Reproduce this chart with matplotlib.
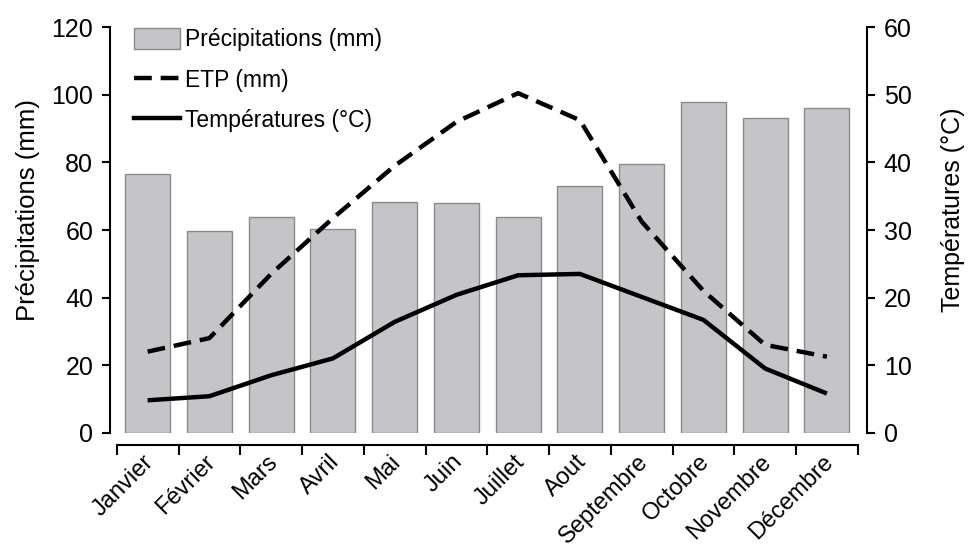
import numpy as np
import matplotlib
matplotlib.use('Agg')
import matplotlib.pyplot as plt
import matplotlib.transforms as mtransforms
from matplotlib.lines import Line2D
from matplotlib.patches import Patch

plt.rcParams['font.family'] = ['Liberation Sans', 'DejaVu Sans']

# Données
mois = ['Janvier', 'Février', 'Mars', 'Avril', 'Mai', 'Juin', 'Juillet',
        'Aout', 'Septembre', 'Octobre', 'Novembre', 'Décembre']
precip = [76.6, 59.7, 63.9, 60.3, 68.2, 67.9, 63.9, 73.0, 79.5, 98.0, 93.1, 96.2]
etp = [24, 28, 47, 63.5, 79, 92, 100.5, 92.5, 62.5, 42, 26, 22.5]
temp = [4.8, 5.4, 8.5, 11.0, 16.4, 20.4, 23.3, 23.5, 20.1, 16.7, 9.5, 5.8]

x = np.arange(len(mois))

fig = plt.figure(figsize=(9.68, 5.49), dpi=100)
ax = fig.add_axes([0.1136, 0.2118, 0.7821, 0.7385])
ax2 = ax.twinx()

# spines d'abord (set_position remet les ticks à zéro)
ax.spines['bottom'].set_position(('outward', 9))
for a in (ax, ax2):
    a.spines['top'].set_visible(False)
    for s in a.spines.values():
        s.set_linewidth(1.5)
ax.spines['right'].set_visible(False)
ax2.spines['bottom'].set_visible(False)
ax2.spines['left'].set_visible(False)

ax.bar(x, precip, width=0.73, color='#c5c5c9', edgecolor='#8a8a8a', linewidth=1.0, zorder=1)
ax.plot(x, etp, color='black', lw=3.2, dashes=(4, 2), dash_capstyle='butt', zorder=3)
ax2.plot(x, temp, color='black', lw=3.2, solid_capstyle='butt', zorder=3)

ax.set_xlim(-0.61, 11.65)
ax.set_ylim(0, 120)
ax2.set_ylim(0, 60)
ax.set_yticks(np.arange(0, 121, 20))
ax2.set_yticks(np.arange(0, 61, 10))

# axe des x décalé : libellés au centre, petits traits entre les mois
ax.spines['bottom'].set_bounds(-0.5, 11.5)
ax.set_xticks(x)
ax.set_xticks(np.arange(-0.5, 12, 1), minor=True)
ax.tick_params(axis='x', which='major', length=0, pad=4, labelsize=17)
ax.tick_params(axis='x', which='minor', length=7, width=1.5, direction='out')
ax.set_xticklabels(mois, rotation=45, ha='right', rotation_mode='anchor')
decal = mtransforms.ScaledTranslation(-5/100, 0, fig.dpi_scale_trans)
for lab in ax.get_xticklabels():
    lab.set_transform(lab.get_transform() + decal)

ax.tick_params(axis='y', length=6, width=1.5, labelsize=18, pad=6)
ax2.tick_params(axis='y', length=6, width=1.5, labelsize=18, pad=6)

ax.set_ylabel('Précipitations (mm)', fontsize=18.5)
ax2.set_ylabel('Températures (°C)', fontsize=18)
ax.yaxis.set_label_coords(-0.093, 0.549)
ax2.yaxis.set_label_coords(1.098, 0.549)

handles = [Patch(facecolor='#c5c5c9', edgecolor='#8a8a8a'),
           Line2D([], [], color='black', lw=3.2, dashes=(4, 2)),
           Line2D([], [], color='black', lw=3.2)]
labels = ['Précipitations (mm)', 'ETP (mm)', 'Températures (°C)']
ax.legend(handles, labels, loc='upper left', bbox_to_anchor=(0.02, 1.02), frameon=False,
          fontsize=16.5, handlelength=2.0, handleheight=1.0, handletextpad=0.2, labelspacing=0.75,
          borderaxespad=0)

fig.savefig('out.png', dpi=100)
